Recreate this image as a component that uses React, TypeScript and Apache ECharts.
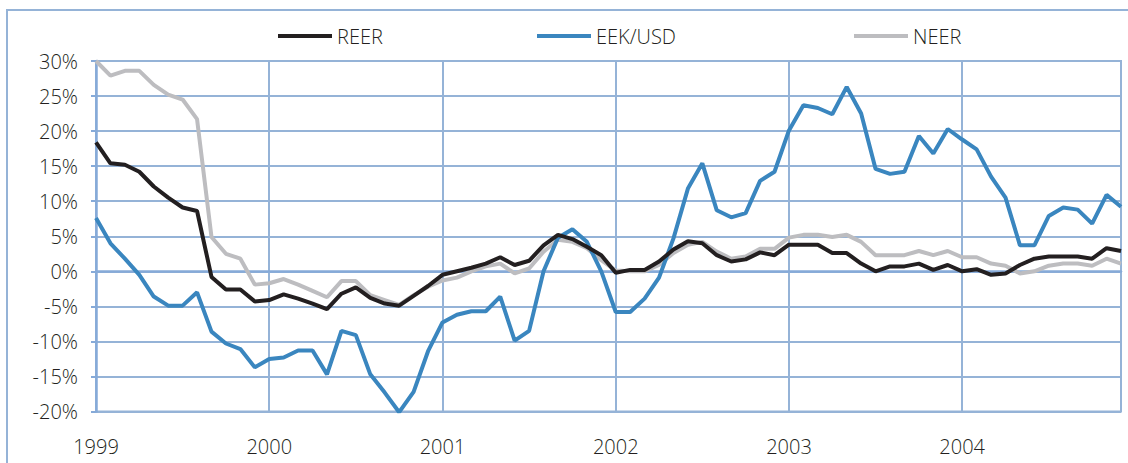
import React, { useEffect, useRef } from "react";
import * as echarts from "echarts";

const years = ["1999", "2000", "2001", "2002", "2003", "2004"];
const yTicks = { min: -20, max: 30, interval: 5 };

const reer = [
  18.4, 15.4, 15.2, 14.2, 12.1, 10.5, 9.1, 8.6, -0.8, -2.6, -2.6, -4.3,
  -4.1, -3.3, -3.9, -4.6, -5.4, -3.2, -2.3, -3.8, -4.6, -4.9, -3.5, -2.1,
  -0.5, 0.0, 0.5, 1.1, 2.0, 0.9, 1.5, 3.7, 5.2, 4.6, 3.5, 2.3,
  -0.2, 0.2, 0.2, 1.4, 3.1, 4.3, 4.0, 2.3, 1.4, 1.7, 2.7, 2.3,
  3.8, 3.8, 3.8, 2.6, 2.6, 1.1, 0.0, 0.7, 0.7, 1.1, 0.2, 0.9,
  0.0, 0.3, -0.5, -0.3, 0.9, 1.8, 2.1, 2.1, 2.1, 1.8, 3.3, 2.9,
];

const eekUsd = [
  7.6, 4.0, 1.8, -0.5, -3.6, -4.9, -4.9, -3.0, -8.6, -10.3, -11.1, -13.7,
  -12.5, -12.3, -11.3, -11.3, -14.7, -8.5, -9.1, -14.7, -17.3, -20.1, -17.2, -11.4,
  -7.3, -6.2, -5.7, -5.7, -3.6, -9.9, -8.5, 0.0, 4.8, 6.0, 4.2, 0.0,
  -5.8, -5.8, -3.9, -0.9, 4.7, 11.8, 15.4, 8.7, 7.7, 8.3, 12.9, 14.2,
  20.1, 23.7, 23.3, 22.4, 26.3, 22.5, 14.6, 13.9, 14.2, 19.3, 16.8, 20.3,
  18.8, 17.4, 13.5, 10.5, 3.7, 3.7, 7.9, 9.1, 8.8, 6.8, 10.9, 9.2,
];

const neer = [
  30.0, 27.9, 28.6, 28.6, 26.6, 25.2, 24.5, 21.7, 4.9, 2.5, 1.8, -1.9,
  -1.7, -1.1, -1.9, -2.8, -3.7, -1.4, -1.4, -3.4, -4.1, -4.8, -3.4, -2.2,
  -1.3, -0.9, 0.0, 0.7, 1.1, -0.3, 0.4, 2.8, 4.5, 4.2, 3.3, 1.6,
  0.1, 0.0, 0.0, 0.9, 2.6, 3.8, 4.2, 2.8, 1.8, 2.1, 3.2, 3.2,
  4.8, 5.2, 5.2, 4.9, 5.2, 4.2, 2.3, 2.3, 2.3, 2.9, 2.3, 2.9,
  2.0, 2.0, 1.1, 0.8, -0.3, 0.0, 0.8, 1.1, 1.1, 0.8, 1.8, 1.1,
];

const months: string[] = [];
years.forEach((y) => {
  for (let m = 1; m <= 12; m++) months.push(`${y}-${String(m).padStart(2, "0")}`);
});

const gridBlue = "#95B3D7";
const axisBlue = "#86AAD8";
const textColor = "#231F20";
const font = "Open Sans";

export default function App() {
  const ref = useRef<HTMLDivElement>(null);
  useEffect(() => {
    if (!ref.current) return;
    const chart = echarts.init(ref.current, undefined, { renderer: "svg" });
    const legendBase = {
      icon: "rect",
      itemWidth: 54,
      itemHeight: 4,
      top: 21,
      textStyle: { fontFamily: font, fontSize: 20, fontWeight: 300, color: textColor },
      selectedMode: false,
    };
    chart.setOption({
      animation: false,
      backgroundColor: "#ffffff",
      graphic: [
        {
          type: "rect",
          shape: { x: 7, y: 10, width: 1300, height: 700 },
          style: { fill: "none", stroke: gridBlue, lineWidth: 2 },
          silent: true,
        },
      ],
      legend: [
        { ...legendBase, left: 273, data: ["REER"] },
        { ...legendBase, left: 532, data: ["EEK/USD"] },
        { ...legendBase, left: 849, data: ["NEER"] },
      ],
      grid: {
        left: 96,
        right: 7,
        top: 61,
        bottom: 51.5,
        show: true,
        borderColor: gridBlue,
        borderWidth: 2,
        containLabel: false,
      },
      xAxis: {
        type: "category",
        data: months,
        boundaryGap: false,
        axisLine: { show: true, lineStyle: { color: axisBlue, width: 2.5 } },
        axisTick: { show: false },
        axisLabel: {
          interval: 11,
          formatter: (v: string) => v.slice(0, 4),
          fontFamily: font,
          fontSize: 20,
          fontWeight: 300,
          color: textColor,
          margin: 25,
        },
        splitLine: {
          show: true,
          interval: 11,
          lineStyle: { color: gridBlue, width: 2 },
        },
      },
      yAxis: {
        type: "value",
        min: yTicks.min,
        max: yTicks.max,
        interval: yTicks.interval,
        axisLine: { show: true, lineStyle: { color: axisBlue, width: 2.5 } },
        axisTick: { show: true, length: 5, lineStyle: { color: axisBlue, width: 2 } },
        axisLabel: {
          formatter: "{value}%",
          fontFamily: font,
          fontSize: 20,
          fontWeight: 300,
          color: textColor,
          margin: 18,
        },
        splitLine: { show: true, lineStyle: { color: gridBlue, width: 2 } },
      },
      series: [
        {
          name: "NEER",
          type: "line",
          data: neer,
          symbol: "none",
          color: "#BDBDC0",
          lineStyle: { width: 4, color: "#BDBDC0" },
          z: 2,
        },
        {
          name: "EEK/USD",
          type: "line",
          data: eekUsd,
          symbol: "none",
          color: "#3A86BF",
          lineStyle: { width: 4, color: "#3A86BF" },
          z: 3,
        },
        {
          name: "REER",
          type: "line",
          data: reer,
          symbol: "none",
          color: "#231F20",
          lineStyle: { width: 4, color: "#231F20" },
          z: 4,
        },
      ],
    });
    return () => chart.dispose();
  }, []);
  return (
    <div
      ref={ref}
      style={{ position: "fixed", left: 0, top: 0, width: 1128, height: 463 }}
    />
  );
}
